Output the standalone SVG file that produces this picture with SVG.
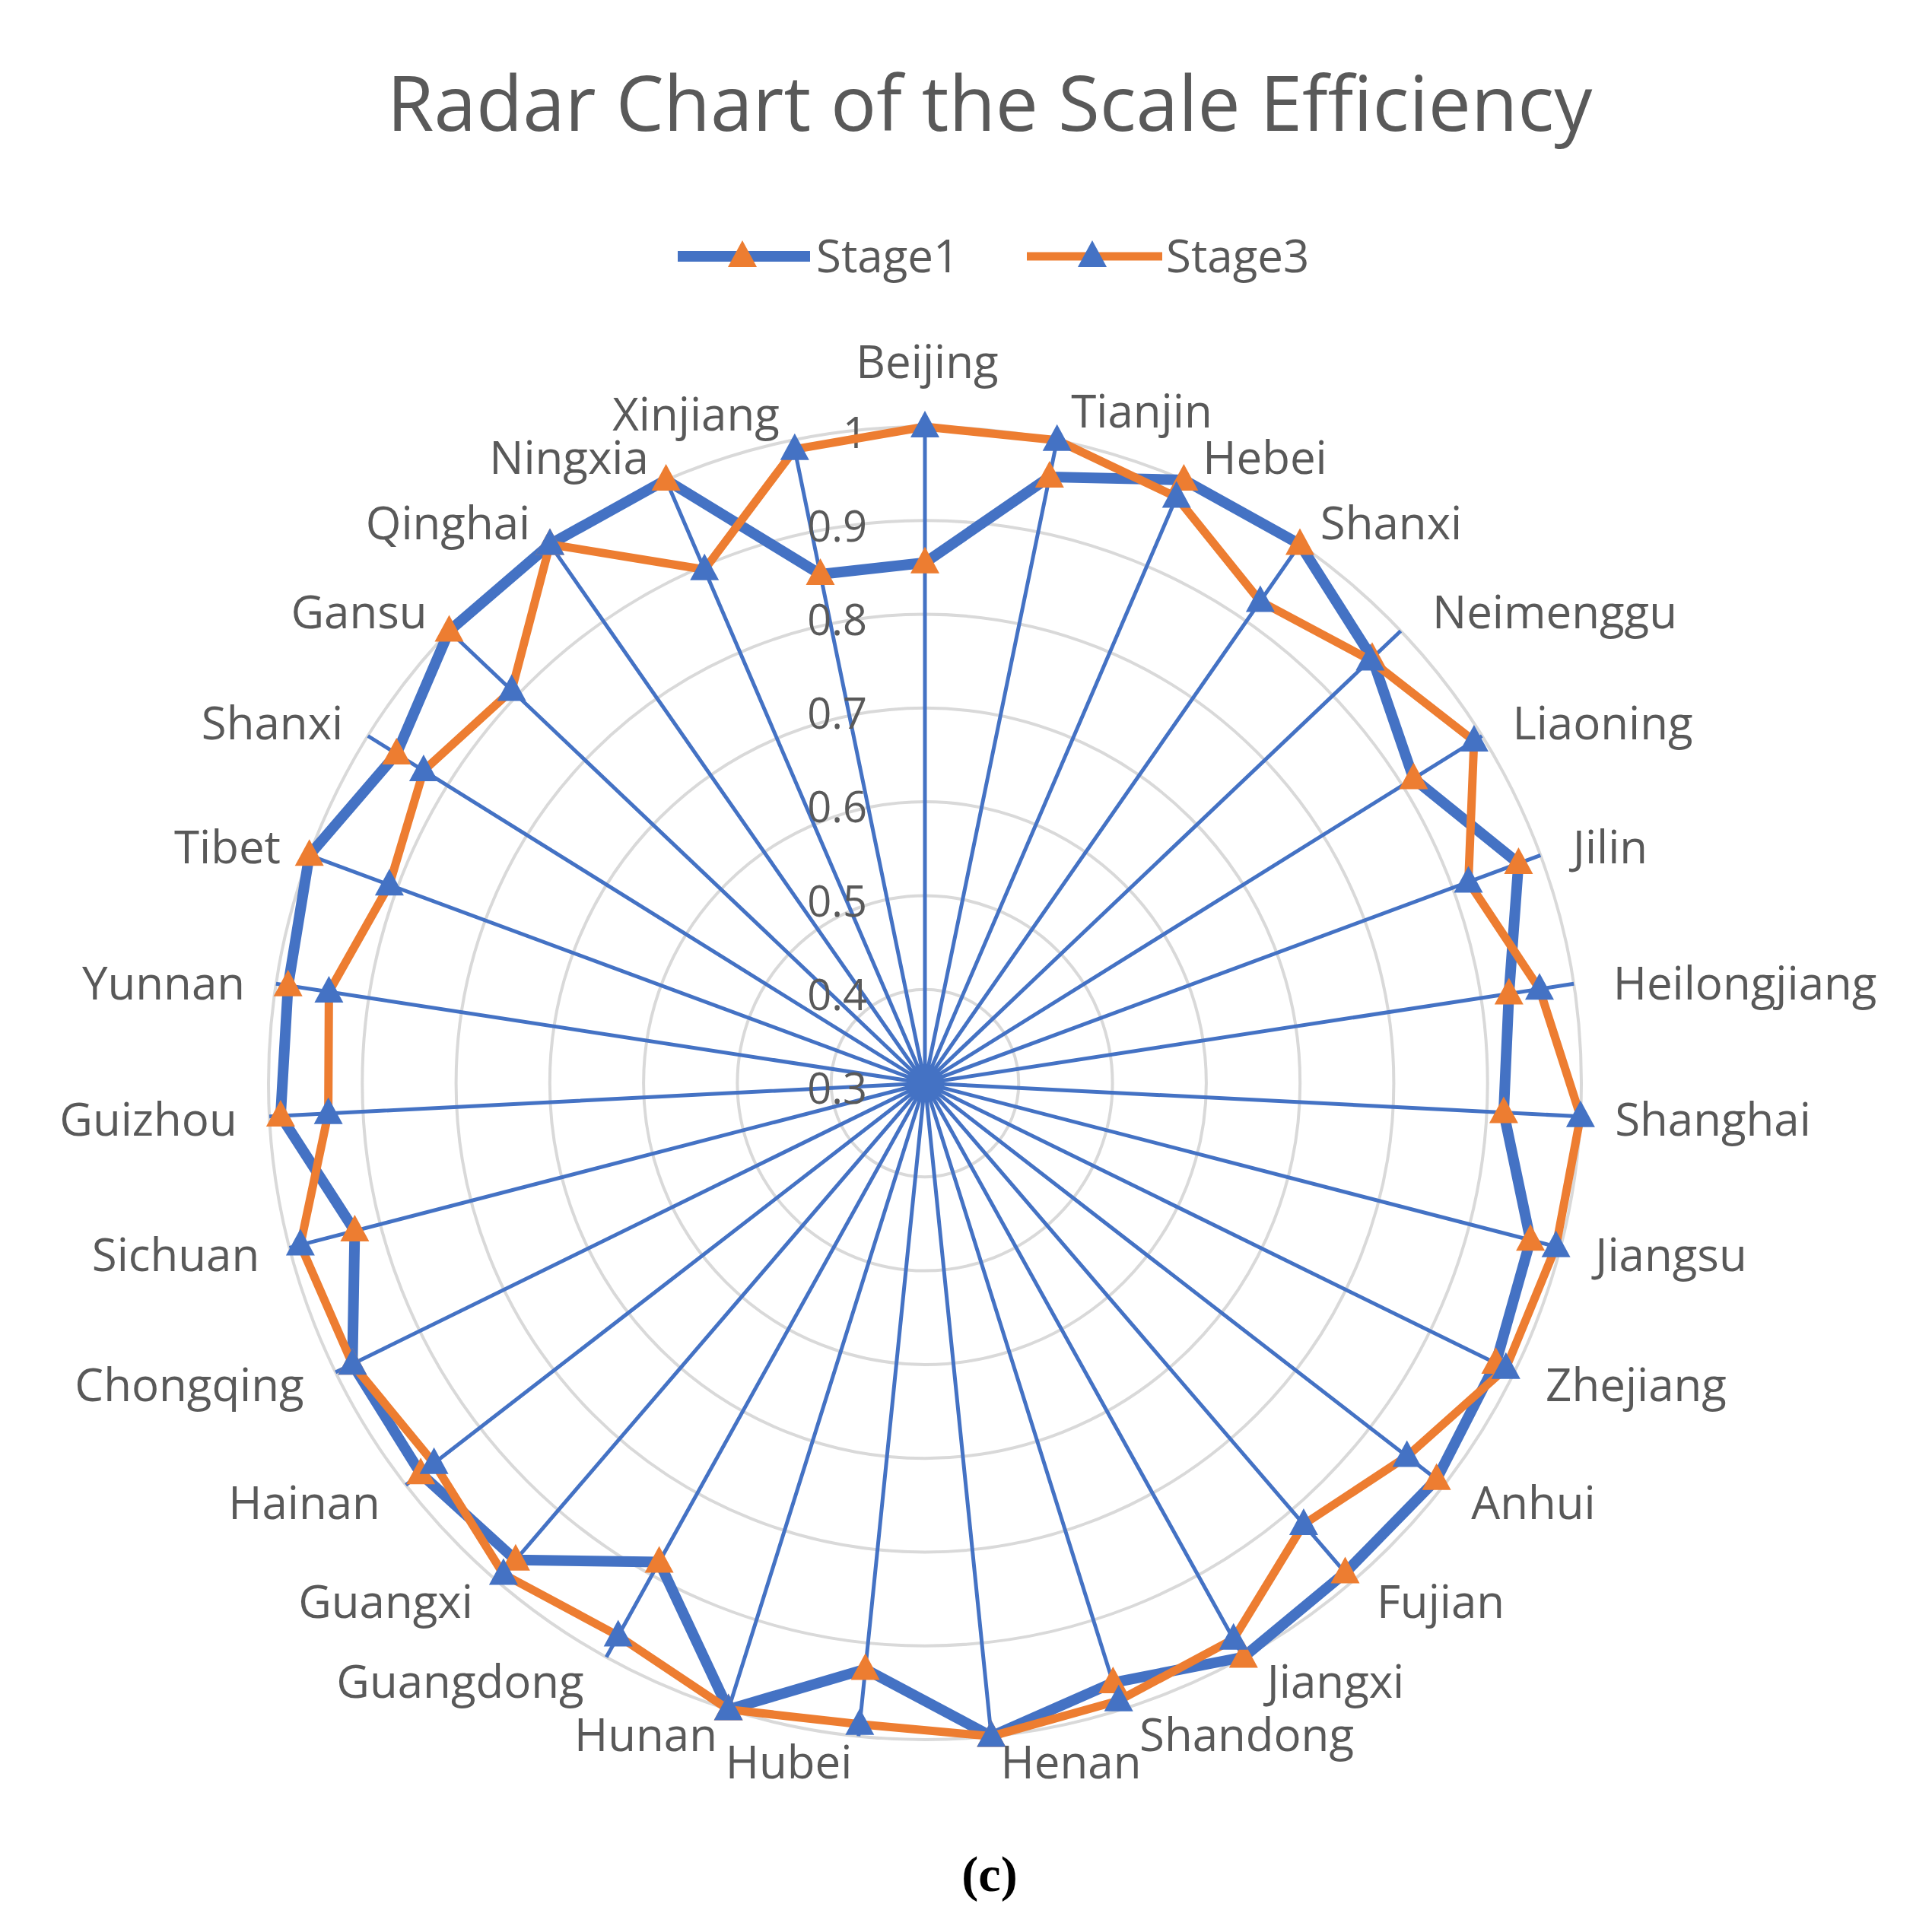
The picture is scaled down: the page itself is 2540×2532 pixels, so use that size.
<svg xmlns="http://www.w3.org/2000/svg" width="2540" height="2532" viewBox="0 0 2540 2532">
<style>
.ring{fill:none;stroke:#d9d9d9;stroke-width:4}
.spoke{stroke:#4472c4;stroke-width:5;fill:none}
.lbl{font-family:"Open Sans","Noto Sans","Liberation Sans",sans-serif;font-size:60px;fill:#595959;text-anchor:middle}
.tick{font-family:"Open Sans","Noto Sans","Liberation Sans",sans-serif;font-size:56px;fill:#595959;text-anchor:end}
.s1{fill:none;stroke:#4472c4;stroke-width:14;stroke-linejoin:round}
.s3{fill:none;stroke:#ed7d31;stroke-width:11;stroke-linejoin:round}
</style>
<defs>
<path id="tri" d="M0,-21 L19,14 L-19,14 Z"/>
</defs>
<rect width="2540" height="2532" fill="#ffffff"/>
<text x="1301" y="172" style="font-family:'Open Sans','Noto Sans','Liberation Sans',sans-serif;font-size:100px;fill:#595959;text-anchor:middle">Radar Chart of the Scale Efficiency</text>
<g id="legend">
<line x1="891" y1="337" x2="1065" y2="337" stroke="#4472c4" stroke-width="14"/>
<use href="#tri" x="976" y="337" fill="#ed7d31"/>
<text x="1073" y="358" class="lbl" style="text-anchor:start">Stage1</text>
<line x1="1350" y1="337" x2="1528" y2="337" stroke="#ed7d31" stroke-width="11"/>
<use href="#tri" x="1436" y="337" fill="#4472c4"/>
<text x="1533" y="358" class="lbl" style="text-anchor:start">Stage3</text>
</g>
<g id="grid">
<circle cx="1216" cy="1424" r="123.3" class="ring"/>
<circle cx="1216" cy="1424" r="246.6" class="ring"/>
<circle cx="1216" cy="1424" r="369.9" class="ring"/>
<circle cx="1216" cy="1424" r="493.2" class="ring"/>
<circle cx="1216" cy="1424" r="616.4" class="ring"/>
<circle cx="1216" cy="1424" r="739.7" class="ring"/>
<circle cx="1216" cy="1424" r="863" class="ring"/>
</g>
<g id="connectors">
<path class="spoke" d="M1216,1424L1216,561M1216,1424L1389.7,578.7M1216,1424L1556.4,630.9M1216,1424L1709,715.6M1216,1424L1841.5,829.5M1216,1424L1948.3,967.5M1216,1424L2025.3,1124.3M1216,1424L2069.1,1293.3M1216,1424L2077.9,1467.7M1216,1424L2051.5,1640.4M1216,1424L1990.8,1804.1M1216,1424L1898.4,1952.3M1216,1424L1778.2,2078.8M1216,1424L1634.8,2178.5M1216,1424L1474.4,2247.4M1216,1424L1303.3,2282.6M1216,1424L1128.7,2282.6M1216,1424L957.6,2247.4M1216,1424L797.2,2178.5M1216,1424L653.8,2078.8M1216,1424L533.6,1952.3M1216,1424L441.2,1804.1M1216,1424L380.5,1640.4M1216,1424L354.1,1467.7M1216,1424L362.9,1293.3M1216,1424L406.7,1124.3M1216,1424L483.7,967.5M1216,1424L590.5,829.5M1216,1424L723,715.6M1216,1424L875.6,630.9M1216,1424L1042.3,578.7"/>
</g>
<g id="ticks">
<text class="tick" x="1140" y="1451">0.3</text>
<text class="tick" x="1140" y="1328">0.4</text>
<text class="tick" x="1140" y="1205">0.5</text>
<text class="tick" x="1140" y="1081">0.6</text>
<text class="tick" x="1140" y="958">0.7</text>
<text class="tick" x="1140" y="835">0.8</text>
<text class="tick" x="1140" y="712">0.9</text>
<text class="tick" x="1140" y="589">1</text>
</g>
<g id="stage1">
<polygon class="s1" points="1216,739.7 1379.8,627 1556.4,630.9 1709,715.6 1804,865.2 1858.4,1023.5 1996.4,1135 1983.8,1306.4 1976.9,1462.6 2012.1,1630.2 1966.5,1792.1 1888.6,1944.8 1768.5,2067.6 1634.8,2178.5 1463.3,2212.1 1303.3,2282.6 1137.6,2194.4 957.6,2247.4 866.6,2053.5 677.9,2050.8 553.1,1937.3 463.3,1793.2 466.4,1618.1 368.9,1466.9 378.7,1295.8 406.7,1124.3 521.3,991 590.5,829.5 723,715.6 875.6,630.9 1078.5,755"/>
<g fill="#ed7d31">
<use href="#tri" x="1216" y="739.7"/><use href="#tri" x="1379.8" y="627"/><use href="#tri" x="1556.4" y="630.9"/><use href="#tri" x="1709" y="715.6"/><use href="#tri" x="1804" y="865.2"/><use href="#tri" x="1858.4" y="1023.5"/><use href="#tri" x="1996.4" y="1135"/><use href="#tri" x="1983.8" y="1306.4"/><use href="#tri" x="1976.9" y="1462.6"/><use href="#tri" x="2012.1" y="1630.2"/><use href="#tri" x="1966.5" y="1792.1"/><use href="#tri" x="1888.6" y="1944.8"/><use href="#tri" x="1768.5" y="2067.6"/><use href="#tri" x="1634.8" y="2178.5"/><use href="#tri" x="1463.3" y="2212.1"/><use href="#tri" x="1303.3" y="2282.6"/><use href="#tri" x="1137.6" y="2194.4"/><use href="#tri" x="957.6" y="2247.4"/><use href="#tri" x="866.6" y="2053.5"/><use href="#tri" x="677.9" y="2050.8"/><use href="#tri" x="553.1" y="1937.3"/><use href="#tri" x="463.3" y="1793.2"/><use href="#tri" x="466.4" y="1618.1"/><use href="#tri" x="368.9" y="1466.9"/><use href="#tri" x="378.7" y="1295.8"/><use href="#tri" x="406.7" y="1124.3"/><use href="#tri" x="521.3" y="991"/><use href="#tri" x="590.5" y="829.5"/><use href="#tri" x="723" y="715.6"/><use href="#tri" x="875.6" y="630.9"/><use href="#tri" x="1078.5" y="755"/>
</g>
</g>
<g id="stage3">
<polygon class="s3" points="1216,561 1389.7,578.7 1546.7,653.5 1656.9,790.5 1801.3,867.6 1937.9,974 1930.5,1159.4 2024,1300.2 2077.9,1467.7 2045.6,1638.8 1979.8,1798.7 1849.7,1914.6 1713.9,2004 1621.7,2154.8 1470.7,2235.7 1303.3,2282.6 1130.3,2266.7 957.6,2247.4 812.7,2150.5 661.9,2069.5 570.6,1923.7 463.3,1793.2 394.9,1636.6 431.6,1463.7 432.4,1304 511.9,1163.2 556.9,1013.1 672.7,907.6 723,715.6 926.2,748.7 1044.8,590.7"/>
<g fill="#4472c4">
<use href="#tri" x="1216" y="561"/><use href="#tri" x="1389.7" y="578.7"/><use href="#tri" x="1546.7" y="653.5"/><use href="#tri" x="1656.9" y="790.5"/><use href="#tri" x="1801.3" y="867.6"/><use href="#tri" x="1937.9" y="974"/><use href="#tri" x="1930.5" y="1159.4"/><use href="#tri" x="2024" y="1300.2"/><use href="#tri" x="2077.9" y="1467.7"/><use href="#tri" x="2045.6" y="1638.8"/><use href="#tri" x="1979.8" y="1798.7"/><use href="#tri" x="1849.7" y="1914.6"/><use href="#tri" x="1713.9" y="2004"/><use href="#tri" x="1621.7" y="2154.8"/><use href="#tri" x="1470.7" y="2235.7"/><use href="#tri" x="1303.3" y="2282.6"/><use href="#tri" x="1130.3" y="2266.7"/><use href="#tri" x="957.6" y="2247.4"/><use href="#tri" x="812.7" y="2150.5"/><use href="#tri" x="661.9" y="2069.5"/><use href="#tri" x="570.6" y="1923.7"/><use href="#tri" x="463.3" y="1793.2"/><use href="#tri" x="394.9" y="1636.6"/><use href="#tri" x="431.6" y="1463.7"/><use href="#tri" x="432.4" y="1304"/><use href="#tri" x="511.9" y="1163.2"/><use href="#tri" x="556.9" y="1013.1"/><use href="#tri" x="672.7" y="907.6"/><use href="#tri" x="723" y="715.6"/><use href="#tri" x="926.2" y="748.7"/><use href="#tri" x="1044.8" y="590.7"/>
</g>
</g>
<g id="labels">
<text class="lbl" x="1219" y="497">Beijing</text>
<text class="lbl" x="1501" y="562">Tianjin</text>
<text class="lbl" x="1663" y="623">Hebei</text>
<text class="lbl" x="1829" y="709">Shanxi</text>
<text class="lbl" x="2044" y="826">Neimenggu</text>
<text class="lbl" x="2107" y="972">Liaoning</text>
<text class="lbl" x="2117" y="1135">Jilin</text>
<text class="lbl" x="2294" y="1314">Heilongjiang</text>
<text class="lbl" x="2252" y="1493">Shanghai</text>
<text class="lbl" x="2197" y="1671">Jiangsu</text>
<text class="lbl" x="2151" y="1842">Zhejiang</text>
<text class="lbl" x="2016" y="1997">Anhui</text>
<text class="lbl" x="1894" y="2127">Fujian</text>
<text class="lbl" x="1756" y="2232">Jiangxi</text>
<text class="lbl" x="1639" y="2302">Shandong</text>
<text class="lbl" x="1408" y="2338">Henan</text>
<text class="lbl" x="1037" y="2338">Hubei</text>
<text class="lbl" x="849" y="2302">Hunan</text>
<text class="lbl" x="605" y="2232">Guangdong</text>
<text class="lbl" x="507" y="2127">Guangxi</text>
<text class="lbl" x="400" y="1997">Hainan</text>
<text class="lbl" x="249" y="1842">Chongqing</text>
<text class="lbl" x="231" y="1671">Sichuan</text>
<text class="lbl" x="195" y="1493">Guizhou</text>
<text class="lbl" x="215" y="1314">Yunnan</text>
<text class="lbl" x="299" y="1135">Tibet</text>
<text class="lbl" x="358" y="972">Shanxi</text>
<text class="lbl" x="472" y="826">Gansu</text>
<text class="lbl" x="589" y="709">Qinghai</text>
<text class="lbl" x="748" y="623">Ningxia</text>
<text class="lbl" x="915" y="566">Xinjiang</text>
</g>
<text x="1301" y="2486" style="font-family:'Liberation Serif',serif;font-size:66px;font-weight:bold;fill:#000;text-anchor:middle">(c)</text>
</svg>
